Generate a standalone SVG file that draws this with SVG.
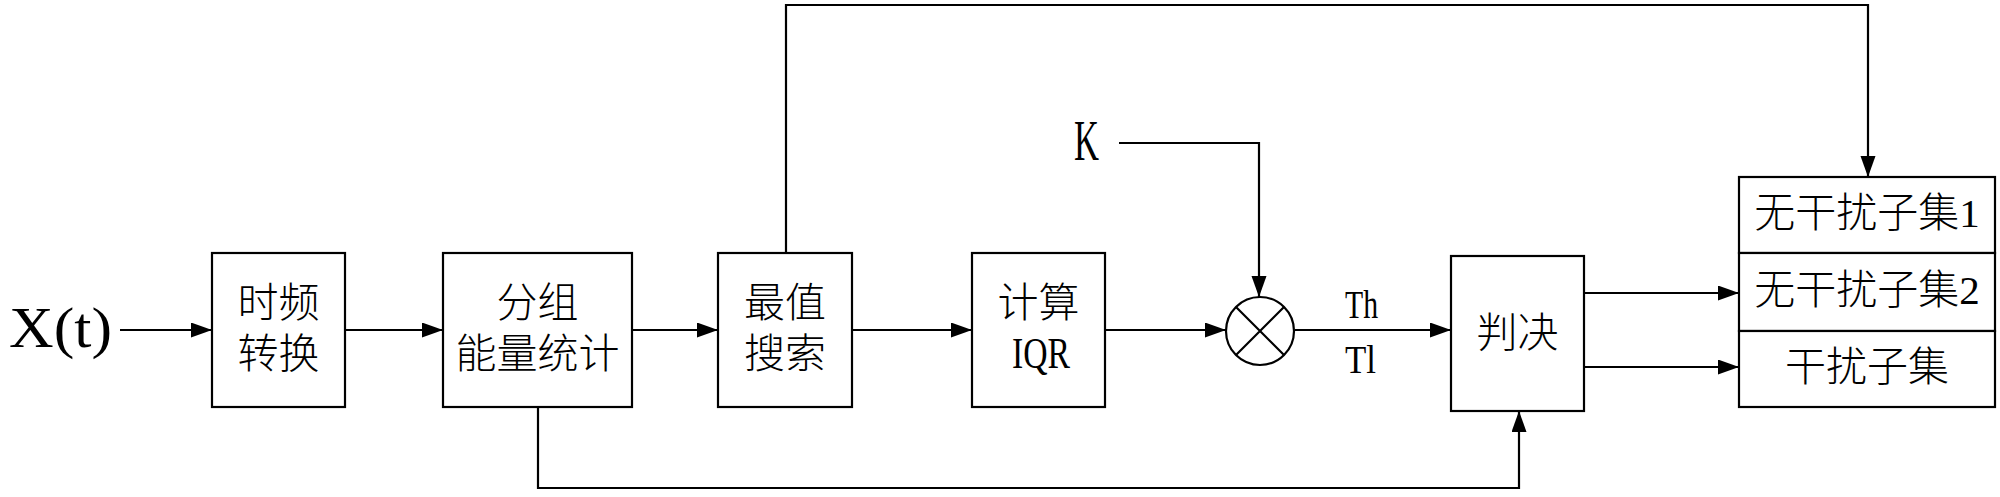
<svg xmlns="http://www.w3.org/2000/svg" width="2000" height="497" viewBox="0 0 2000 497">
<style>
.box{fill:#fff;stroke:#000;stroke-width:2.2}
.ln{fill:none;stroke:#000;stroke-width:2.2}
.t{font-family:"Liberation Serif","Noto Sans CJK SC",serif;font-size:41px;font-weight:300;fill:#000;text-anchor:middle;dominant-baseline:central}
.l{font-family:"Liberation Serif","Noto Sans CJK SC",serif;fill:#000;dominant-baseline:central}
</style>
<defs>
<marker id="ah" markerUnits="userSpaceOnUse" markerWidth="24" markerHeight="16" refX="21" refY="7.5" orient="auto">
<path d="M0,0 L21,7.5 L0,15 Z" fill="#000"/>
</marker>
</defs>
<rect width="2000" height="497" fill="#fff"/>
<g id="connectors">
<path class="ln" d="M120,330 H212" marker-end="url(#ah)"/>
<path class="ln" d="M345,330 H443" marker-end="url(#ah)"/>
<path class="ln" d="M632,330 H718" marker-end="url(#ah)"/>
<path class="ln" d="M852,330 H972" marker-end="url(#ah)"/>
<path class="ln" d="M1105,330 H1226" marker-end="url(#ah)"/>
<path class="ln" d="M1295,330 H1451" marker-end="url(#ah)"/>
<path class="ln" d="M1119,143 H1259 V297" marker-end="url(#ah)"/>
<path class="ln" d="M786,253 V5 H1868 V177" marker-end="url(#ah)"/>
<path class="ln" d="M538,407 V488 H1519 V411" marker-end="url(#ah)"/>
<path class="ln" d="M1584,293 H1739" marker-end="url(#ah)"/>
<path class="ln" d="M1584,367 H1739" marker-end="url(#ah)"/>
</g>
<g id="input">
<text class="l" x="9" y="328" font-size="56" textLength="103" lengthAdjust="spacingAndGlyphs">X(t)</text>
</g>
<g id="k">
<text class="l" x="1074" y="141" font-size="56" textLength="25" lengthAdjust="spacingAndGlyphs">K</text>
</g>
<g id="tf">
<rect class="box" x="212" y="253" width="133" height="154"/>
<text class="t" x="278.5" y="303">时频</text>
<text class="t" x="278.5" y="354">转换</text>
</g>
<g id="group">
<rect class="box" x="443" y="253" width="189" height="154"/>
<text class="t" x="537.5" y="303">分组</text>
<text class="t" x="537.5" y="354">能量统计</text>
</g>
<g id="search">
<rect class="box" x="718" y="253" width="134" height="154"/>
<text class="t" x="785" y="303">最值</text>
<text class="t" x="785" y="354">搜索</text>
</g>
<g id="iqr">
<rect class="box" x="972" y="253" width="133" height="154"/>
<text class="t" x="1038.5" y="303">计算</text>
<text class="l" x="1012" y="353" font-size="44" textLength="58" lengthAdjust="spacingAndGlyphs">IQR</text>
</g>
<g id="mult">
<ellipse class="box" cx="1260" cy="331" rx="34" ry="34"/>
<path class="ln" d="M1236,307 L1284,355 M1284,307 L1236,355" stroke-width="1.8"/>
</g>
<g id="labels">
<text class="l" x="1345" y="304" font-size="39" textLength="33" lengthAdjust="spacingAndGlyphs">Th</text>
<text class="l" x="1345" y="359" font-size="39" textLength="31" lengthAdjust="spacingAndGlyphs">Tl</text>
</g>
<g id="decide">
<rect class="box" x="1451" y="256" width="133" height="155"/>
<text class="t" x="1517.5" y="333">判决</text>
</g>
<g id="sets">
<rect class="box" x="1739" y="177" width="256" height="76"/>
<rect class="box" x="1739" y="253" width="256" height="78"/>
<rect class="box" x="1739" y="331" width="256" height="76"/>
<text class="t" x="1867" y="213">无干扰子集1</text>
<text class="t" x="1867" y="290">无干扰子集2</text>
<text class="t" x="1867" y="367">干扰子集</text>
</g>
</svg>
